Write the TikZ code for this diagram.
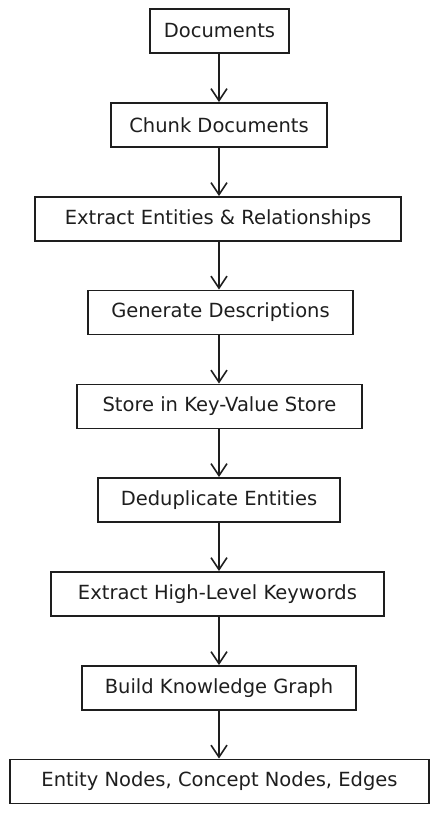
\documentclass[tikz,border=0pt]{standalone}
\usepackage{fontspec}
\setmainfont{DejaVu Sans}
\usepackage{tikz}
\usetikzlibrary{arrows.meta,positioning}
\definecolor{flowInk}{HTML}{1E1E1E}
\tikzset{
  flowbox/.style={draw=flowInk,line width=1.8pt,fill=white,text=flowInk,
                  minimum height=44pt,inner sep=2pt,font=\fontsize{19.5}{22}\selectfont},
  flowarrow/.style={-{Straight Barb[length=12pt,width=16pt,line width=1.6pt]},
                    draw=flowInk,line width=1.7pt},
}
\begin{document}
\begin{tikzpicture}[x=1pt,y=1pt]
  \useasboundingbox (0,0) rectangle (439,-814);
  % Pipeline, top to bottom.
  \node[flowbox,minimum width=139pt] (docs)     at (219.5,-31)  {Documents};
  \node[flowbox,minimum width=216pt] (chunk)    at (219,-125)   {Chunk Documents};
  \node[flowbox,minimum width=366pt] (extract)  at (218,-219)   {Extract Entities \& Relationships};
  \node[flowbox,minimum width=265pt] (descr)    at (220.5,-312.5) {Generate Descriptions};
  \node[flowbox,minimum width=285pt] (store)    at (219.5,-406.5) {Store in Key-Value Store};
  \node[flowbox,minimum width=242pt] (dedup)    at (219,-500)   {Deduplicate Entities};
  \node[flowbox,minimum width=333pt] (keywords) at (217.5,-594)  {Extract High-Level Keywords};
  \node[flowbox,minimum width=274pt] (graph)    at (219,-688)   {Build Knowledge Graph};
  \node[flowbox,minimum width=419pt] (output)   at (219.5,-781.5) {Entity Nodes, Concept Nodes, Edges};

  % Straight drops along the spine.
  \draw[flowarrow] (docs.south -| chunk.south)--(chunk.north);
  \draw[flowarrow] (chunk.south)--(extract.north -| chunk.south);
  \draw[flowarrow] (extract.south -| chunk.south)--(descr.north -| chunk.south);
  \draw[flowarrow] (descr.south -| chunk.south)--(store.north -| chunk.south);
  \draw[flowarrow] (store.south -| chunk.south)--(dedup.north -| chunk.south);
  \draw[flowarrow] (dedup.south -| chunk.south)--(keywords.north -| chunk.south);
  \draw[flowarrow] (keywords.south -| chunk.south)--(graph.north -| chunk.south);
  \draw[flowarrow] (graph.south -| chunk.south)--(output.north -| chunk.south);
\end{tikzpicture}
\end{document}
